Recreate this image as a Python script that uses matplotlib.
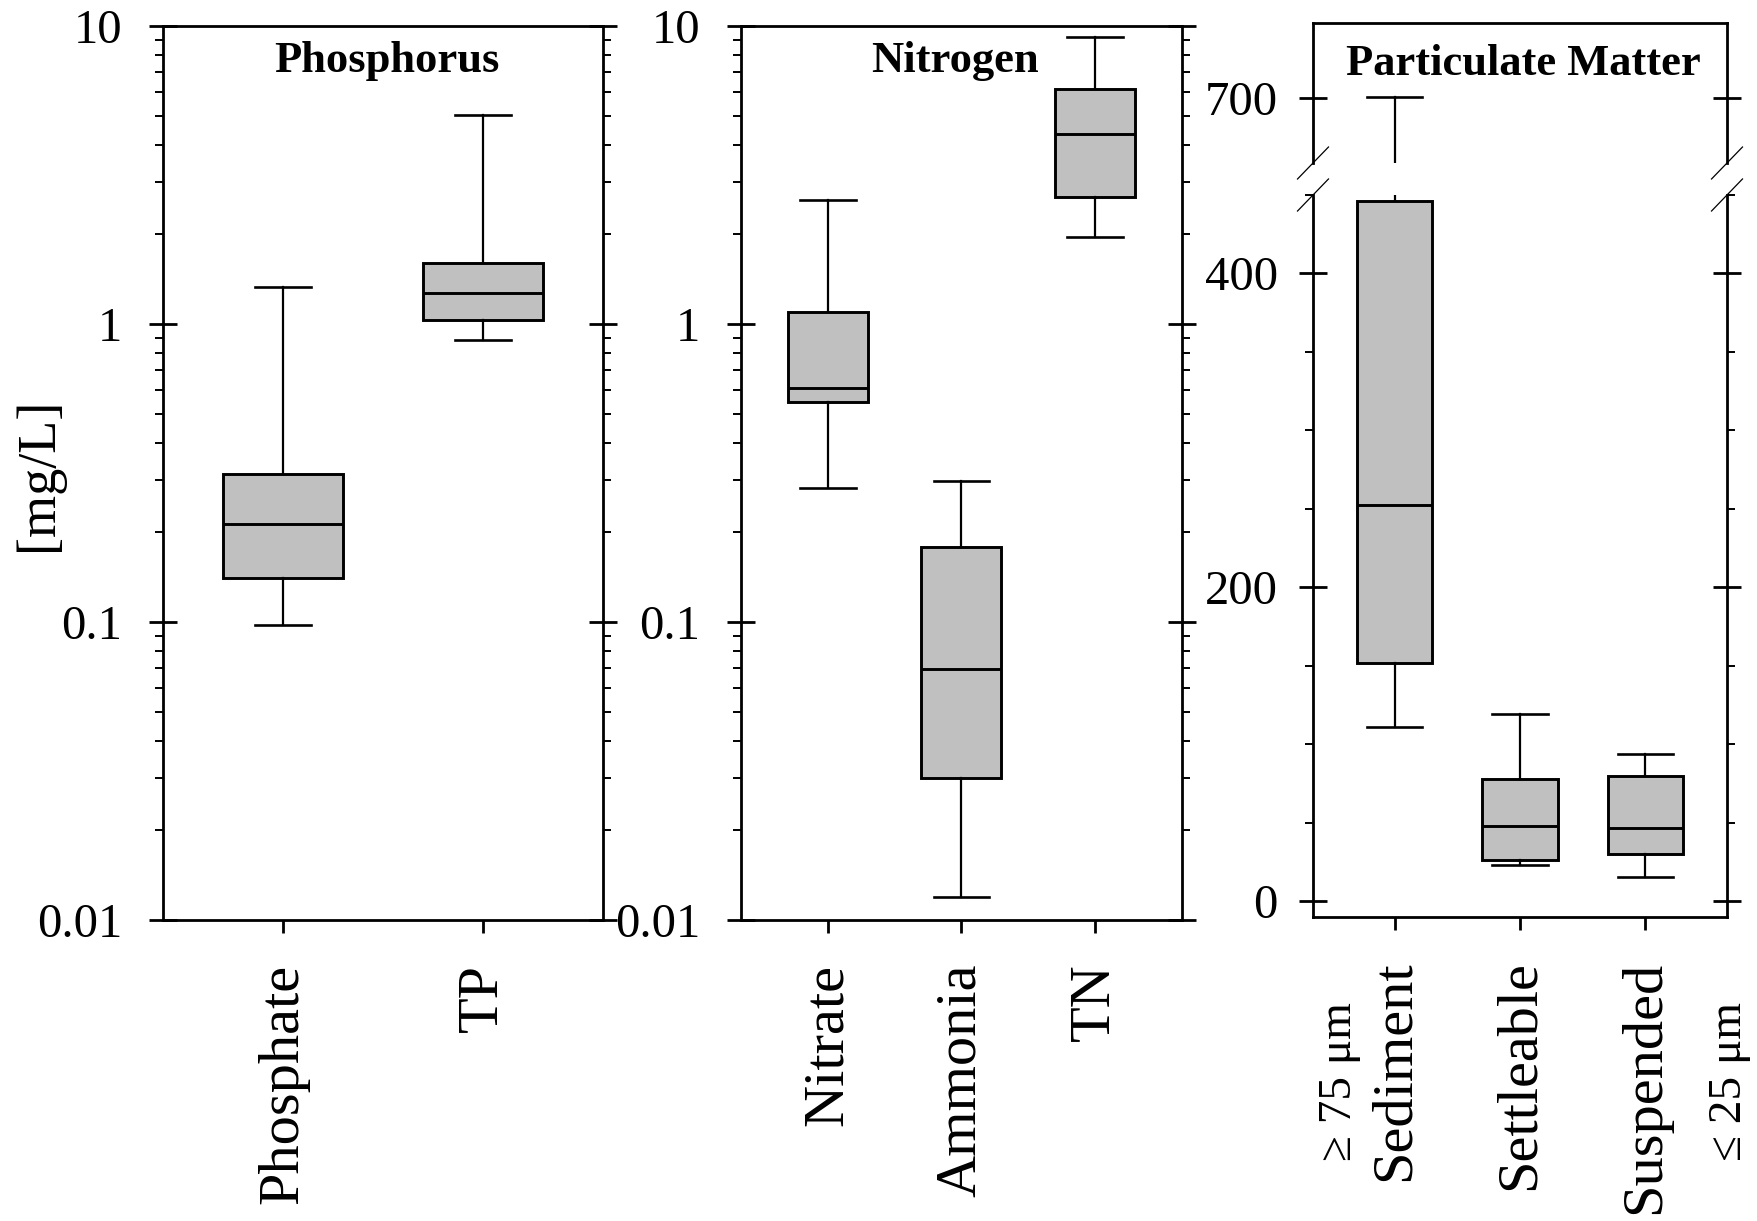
import matplotlib
matplotlib.use("Agg")
import matplotlib.pyplot as plt
from matplotlib.ticker import FixedLocator, LogLocator, MultipleLocator, NullFormatter, NullLocator
import numpy as np

plt.rcParams['font.family'] = ['Liberation Serif', 'DejaVu Serif']

# Phosphorus [mg/L]
p_labels = ['Phosphate', 'TP']
p_whislo = [0.0975, 0.884]
p_q1 = [0.141, 1.031]
p_med = [0.213, 1.27]
p_q3 = [0.314, 1.606]
p_whishi = [1.334, 5.01]

# Nitrogen [mg/L]
n_labels = ['Nitrate', 'Ammonia', 'TN']
n_whislo = [0.281, 0.0119, 1.96]
n_q1 = [0.549, 0.030, 2.66]
n_med = [0.608, 0.0695, 4.35]
n_q3 = [1.097, 0.179, 6.15]
n_whishi = [2.61, 0.2965, 9.17]

# Particulate matter [mg/L]
m_labels = ['Sediment', 'Settleable', 'Suspended']
m_whislo = [111, 23.4, 15.7]
m_q1 = [152, 26.5, 30.4]
m_med = [252.5, 48.2, 46.4]
m_q3 = [446, 78.1, 79.6]
m_whishi = [701, 119.5, 94]

log_ticks = [0.01, 0.1, 1, 10]
log_ticklabels = ['0.01', '0.1', '1', '10']
pm_ticks = [0, 200, 400]
pm_break_ticks = [700]

GREY = '#c0c0c0'
LW = 2.0


def make_stats(whislo, q1, med, q3, whishi):
    return [dict(whislo=a, q1=b, med=c, q3=d, whishi=e, fliers=[])
            for a, b, c, d, e in zip(whislo, q1, med, q3, whishi)]


def draw_boxes(ax, stats, capw):
    pos = np.arange(1, len(stats) + 1)
    ax.bxp(stats, positions=pos, widths=0.6, capwidths=capw, patch_artist=True,
           showfliers=False,
           boxprops=dict(facecolor=GREY, edgecolor='black', linewidth=2.1),
           medianprops=dict(color='black', linewidth=2.1),
           whiskerprops=dict(color='black', linewidth=1.6),
           capprops=dict(color='black', linewidth=1.9))
    return pos


def style_axes(ax, labelpad):
    for s in ax.spines.values():
        s.set_linewidth(LW)
    ax.tick_params(axis='y', which='major', direction='inout', length=19.5, width=LW,
                   left=True, right=True, labelsize=35, pad=labelpad)
    ax.tick_params(axis='y', which='minor', direction='out', length=6, width=1.4,
                   left=True, right=True)
    ax.tick_params(axis='x', which='both', direction='out', length=9.4, width=LW,
                   bottom=True, top=False, labelsize=42, pad=22, labelrotation=90)
    ax.xaxis.set_minor_locator(NullLocator())


def style_log(ax):
    ax.set_yscale('log')
    ax.set_ylim(0.01, 10)
    ax.yaxis.set_major_locator(FixedLocator(log_ticks))
    ax.set_yticklabels(log_ticklabels)
    ax.yaxis.set_minor_locator(LogLocator(base=10, subs=np.arange(2, 10)))
    ax.yaxis.set_minor_formatter(NullFormatter())
    style_axes(ax, 19.8)


fig = plt.figure(figsize=(17.57, 12.21), dpi=100)

# Phosphorus
ax1 = fig.add_axes([0.09277, 0.24652, 0.25066, 0.73219])
pos = draw_boxes(ax1, make_stats(p_whislo, p_q1, p_med, p_q3, p_whishi), 0.28)
style_log(ax1)
ax1.set_xlim(0.4, 2.6)
ax1.set_xticks(pos)
ax1.set_xticklabels(p_labels)
ax1.text(0.508, 0.9489, 'Phosphorus', transform=ax1.transAxes, ha='center',
         va='baseline', fontsize=32, fontweight='bold')

# Nitrogen
ax2 = fig.add_axes([0.42174, 0.24652, 0.25083, 0.73219])
pos = draw_boxes(ax2, make_stats(n_whislo, n_q1, n_med, n_q3, n_whishi), 0.417)
style_log(ax2)
ax2.set_xlim(0.35, 3.65)
ax2.set_xticks(pos)
ax2.set_xticklabels(n_labels)
ax2.text(0.4845, 0.9489, 'Nitrogen', transform=ax2.transAxes, ha='center',
         va='baseline', fontsize=32, fontweight='bold')

# Particulate matter, broken axis
ax3 = fig.add_axes([0.74730, 0.24898, 0.23563, 0.59132])
ax3t = fig.add_axes([0.74730, 0.86650, 0.23563, 0.11491])
pm_stats = make_stats(m_whislo, m_q1, m_med, m_q3, m_whishi)
pos = draw_boxes(ax3, pm_stats, 0.44)
draw_boxes(ax3t, pm_stats, 0.44)
for ax in (ax3, ax3t):
    style_axes(ax, 15.5)
    ax.set_xlim(0.35, 3.65)
ax3.set_ylim(-10, 450)
ax3.yaxis.set_major_locator(FixedLocator(pm_ticks))
ax3.yaxis.set_minor_locator(MultipleLocator(50))
ax3.set_xticks(pos)
ax3.set_xticklabels(m_labels)
ax3.spines['top'].set_visible(False)

ax3t.set_ylim(659, 748)
ax3t.yaxis.set_major_locator(FixedLocator(pm_break_ticks))
ax3t.yaxis.set_minor_locator(NullLocator())
ax3t.set_xticks([])
ax3t.tick_params(axis='x', bottom=False, labelbottom=False)
ax3t.spines['bottom'].set_visible(False)
ax3t.text(0.507, 0.627, 'Particulate Matter', transform=ax3t.transAxes, ha='center',
          va='baseline', fontsize=32, fontweight='bold')

# break marks
dx = 0.0374
for xs in (0, 1):
    ax3t.plot([xs - dx, xs + dx], [-0.114, 0.114], transform=ax3t.transAxes,
              color='black', lw=0.9, clip_on=False)
    ax3.plot([xs - dx, xs + dx], [1 - 0.0222, 1 + 0.0222], transform=ax3.transAxes,
             color='black', lw=0.9, clip_on=False)

# size class notes
fig.text(1340 / 1757, 1 - 1081.5 / 1221, '≥ 75 μm', rotation=90, ha='center',
         va='center', fontsize=34)
fig.text(1730 / 1757, 1 - 1081.5 / 1221, '≤ 25 μm', rotation=90, ha='center',
         va='center', fontsize=34)

fig.text(39 / 1757, 1 - 474 / 1221, '[mg/L]', rotation=90, ha='center',
         va='center', fontsize=39)

fig.savefig('out.png', dpi=100)
